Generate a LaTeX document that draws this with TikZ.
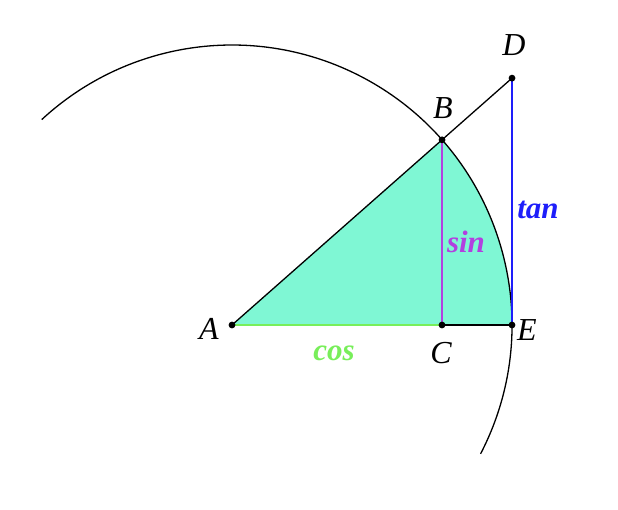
\documentclass[tikz,border=0pt]{standalone}
\usepackage{fontspec}
\setmainfont{Liberation Serif}
\usepackage{xcolor}
\usepackage{tikz}
\usetikzlibrary{calc}

\definecolor{sectorfill}{RGB}{127,247,212}
\definecolor{cosgreen}{RGB}{120,238,90}
\definecolor{sinpurple}{RGB}{178,64,224}
\definecolor{tanblue}{RGB}{30,30,250}

\begin{document}
\begin{tikzpicture}[
      x=1pt, y=1pt,
      lbl/.style={font=\fontsize{32}{34}\selectfont\itshape, inner sep=0pt},
      fnlbl/.style={font=\fontsize{31}{34}\selectfont\bfseries\itshape, inner sep=0pt},
      pt/.style={fill=black},
      edge/.style={line width=1.3pt},
      fnedge/.style={line width=1.8pt}
    ]
    \useasboundingbox (0,0) rectangle (618,510);

    % Punti
    \coordinate (A) at (232,185);
    \coordinate (B) at ($(A)+(41.4:280)$);
    \coordinate (E) at ($(A)+(0:280)$);
    \coordinate (C) at (B |- A);
    \coordinate (D) at ($(A)+(41.4:{280/cos(41.4)})$);

    % Settore
    \fill[sectorfill] (A) -- (B) arc[start angle=41.4, end angle=0, radius=280pt] -- cycle;

    % Cerchio
    \draw[edge] ($(A)+(-27.4:280)$) arc[start angle=-27.4, end angle=132.8, radius=280pt];

    % Segmenti
    \draw[edge] (A) -- (D);
    \draw[edge] (C) -- (E);
    \draw[cosgreen, fnedge] (A) -- (C);
    \draw[sinpurple, fnedge] (B) -- (C);
    \draw[tanblue, fnedge] (E) -- (D);

    \foreach \p in {A,B,C,D,E} \fill[pt] (\p) circle (3.4pt);

    % Etichette
    \node[lbl] (lA) at (209,181) {A};
    \node[lbl] (lB) at (443,402) {B};
    \node[lbl] (lC) at (441,157) {C};
    \node[lbl] (lD) at (514,465) {D};
    \node[lbl] (lE) at (527,180) {E};
    \node[fnlbl, text=cosgreen] (lcos) at (334,157) {cos};
    \node[fnlbl, text=sinpurple] (lsin) at (466,268) {sin};
    \node[fnlbl, text=tanblue] (ltan) at (538,300) {tan};
  \end{tikzpicture}
\end{document}
